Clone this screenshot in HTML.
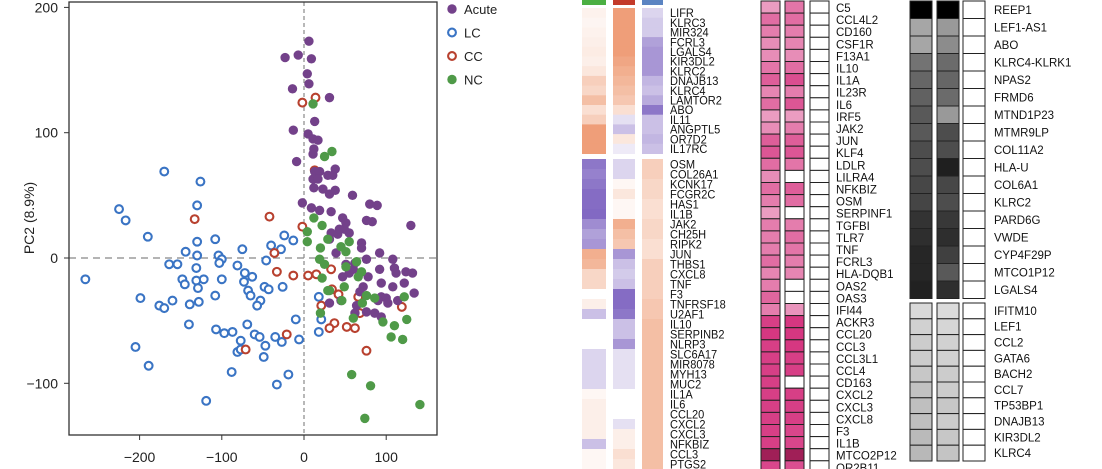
<!DOCTYPE html>
<html><head><meta charset="utf-8">
<style>
html,body{margin:0;padding:0;background:#fff;}
svg{display:block;font-family:"Liberation Sans",sans-serif;}
</style></head>
<body>
<svg id="fig" width="1102" height="469" viewBox="0 0 1102 469" xmlns="http://www.w3.org/2000/svg">
<g id="scatter"></g>
<g id="hm1"></g>
<g id="hm2"></g>
<g id="hm3"></g>
</svg>
<script>
// ---------- scatter data (PC1, PC2) ----------
const acuteX=[6,-23,-7,9,4,6,-14,31,-13,13,5,11,17,12,-9,13,19,11,17,29,35,38,12,23,31,38,59,80,89,-2,9,19,33,47,51,76,83,130,33,41,55,49,70,70,31,92,108,76,51,62,55,92,110,112,124,132,78,94,122,108,72,68,134,94,100,102,114,90,64,62,76,86,94,31,45,11,43,39,60,47];
const acuteY=[173,160,162,159,147,139,135,128,102,109,99,95,94,87,77,69,69,63,63,66,66,71,56,55,51,54,50,43,42,44,40,38,37,32,28,30,29,26,20,19,20,23,12,8,15,4,-1,-1,-5,-4,-12,-9,-8,-12,-11,-12,-15,-20,-20,-23,-23,-27,-28,-31,-32,-36,-34,-34,-38,-44,-43,-44,-47,-36,-34,83,23,4,-9,-15];
const ncX=[11,25,34,12,22,4,4,29,20,45,51,55,19,25,51,66,70,22,29,49,76,46,71,86,122,20,60,96,110,125,106,120,58,81,74,141,31,64];
const ncY=[123,81,85,32,26,21,13,15,8,9,5,13,-1,-5,-7,-15,-11,-16,-26,-23,-30,-34,-36,-32,-31,-44,-48,-51,-54,-49,-63,-65,-93,-102,-128,-117,-26,-3];
const ccX=[-2,14,-133,-42,-2,-36,-33,-13,5,15,33,34,42,21,37,31,52,62,68,66,119,76,-21,-71,13];
const ccY=[124,128,31,33,25,4,-11,-14,-14,-13,-9,-25,-29,-38,-52,-56,-55,-56,-44,-31,-39,-74,-61,-73,70];
const lcX=[-170,-126,-225,-217,-130,-190,-130,-108,-144,-130,-75,-104,-100,-103,-164,-154,-40,-28,-24,-13,-46,-81,-266,-131,-148,-145,-131,-122,-100,-129,-72,-63,-73,-68,-65,-48,-43,-26,-199,-176,-170,-160,-108,-139,-128,-53,-57,-140,-107,-97,-87,-69,-60,-54,-77,-35,-27,-47,-81,-77,-49,-205,-189,-88,-19,-33,-119,-10,-6,18,21,18];
const lcY=[69,61,39,30,42,17,13,15,5,2,7,2,-1,-4,-5,-5,10,7,18,14,-2,-6,-17,-8,-17,-21,-18,-17,-17,-24,-12,-15,-19,-26,-30,-23,-25,-23,-32,-38,-40,-34,-30,-37,-35,-34,-38,-53,-57,-60,-59,-53,-61,-63,-66,-63,-67,-70,-75,-73,-79,-71,-86,-91,-93,-101,-114,-49,-65,-31,-49,-59];
const xTicks=[-200,-100,0,100];
const yTicks=[-100,0,100,200];
const legendLabels=["Acute","LC","CC","NC"];

// ---------- heatmap 1 ----------
const hm1Genes1=["LIFR","KLRC3","MIR324","FCRL3","LGALS4","KIR3DL2","KLRC2","DNAJB13","KLRC4","LAMTOR2","ABO","IL11","ANGPTL5","OR7D2","IL17RC"];
const hm1Genes2=["OSM","COL26A1","KCNK17","FCGR2C","HAS1","IL1B","JAK2","CH25H","RIPK2","JUN","THBS1","CXCL8","TNF","F3","TNFRSF18","U2AF1","IL10","SERPINB2","NLRP3","SLC6A17","MIR8078","MYH13","MUC2","IL1A","IL6","CCL20","CXCL2","CXCL3","NFKBIZ","CCL3","PTGS2"];
const hm1A1=[.08,.06,.08,.1,.12,.1,.15,.3,.25,.4,.2,.3,.6,.6,.6];
const hm1B1=[.6,.6,.6,.6,.6,.55,.5,.45,.4,.35,.2,-.15,-.3,.15,-.1];
const hm1C1=[-.2,-.25,-.25,-.45,-.5,-.5,-.5,-.35,-.3,-.4,-.65,-.3,-.3,-.35,-.3];
const hm1A2=[-.65,-.6,-.65,-.7,-.7,-.75,-.55,-.45,-.5,.5,.45,.25,.25,0,.1,-.3,0,0,0,-.2,-.2,-.2,-.2,.05,.1,.1,.1,.1,-.3,.05,.05];
const hm1B2=[-.2,-.2,.05,.15,.05,.05,.5,.4,.35,-.5,-.3,-.25,-.3,-.7,-.7,-.65,-.3,-.3,-.5,-.15,-.15,-.15,-.15,0,0,0,-.15,.1,.1,.2,.15];
const hm1C2=[.3,.3,.25,.25,.2,.2,.25,.25,.2,.2,.3,.3,.3,.3,.35,.35,.4,.4,.4,.4,.4,.4,.4,.4,.4,.4,.4,.4,.4,.4,.4];

// ---------- heatmap 2 (pink) ----------
const hm2Genes=["C5","CCL4L2","CD160","CSF1R","F13A1","IL10","IL1A","IL23R","IL6","IRF5","JAK2","JUN","KLF4","LDLR","LILRA4","NFKBIZ","OSM","SERPINF1","TGFBI","TLR7","TNF","FCRL3","HLA-DQB1","OAS2","OAS3","IFI44","ACKR3","CCL20","CCL3","CCL3L1","CCL4","CD163","CXCL2","CXCL3","CXCL8","F3","IL1B","MTCO2P12","OR2B11"];
const hm2A=[.3,.6,.5,.4,.4,.55,.7,.45,.6,.3,.4,.7,.75,.6,.4,.6,.5,.3,.5,.5,.5,.6,.45,.5,.65,.5,.9,.95,.9,.9,.9,.9,.9,.9,.9,.9,.9,1.3,.85];
const hm2B=[.55,.6,.5,.45,.4,.6,.8,.5,.75,.3,.5,.7,.75,.55,0,.7,.6,0,.5,.6,.55,.5,.45,0,0,.35,.95,.95,.95,.9,.9,0,.9,.9,.9,.85,.85,1.3,.8];

// ---------- heatmap 3 (grey) ----------
const hm3Genes1=["REEP1","LEF1-AS1","ABO","KLRC4-KLRK1","NPAS2","FRMD6","MTND1P23","MTMR9LP","COL11A2","HLA-U","COL6A1","KLRC2","PARD6G","VWDE","CYP4F29P","MTCO1P12","LGALS4"];
const hm3Genes2=["IFITM10","LEF1","CCL2","GATA6","BACH2","CCL7","TP53BP1","DNAJB13","KIR3DL2","KLRC4"];
const hm3A1=[0,.65,.65,.45,.4,.38,.35,.35,.3,.3,.28,.27,.2,.18,.15,.15,.13];
const hm3B1=[0,.6,.55,.42,.4,.42,.6,.3,.3,.12,.28,.3,.22,.18,.25,.35,.18];
const hm3A2=[.85,.82,.8,.8,.78,.76,.75,.75,.73,.72];
const hm3B2=[.86,.84,.82,.82,.8,.8,.78,.8,.78,.77];

const NS="http://www.w3.org/2000/svg";
function mk(parent,tag,attrs){const e=document.createElementNS(NS,tag);for(const k in attrs)e.setAttribute(k,attrs[k]);parent.appendChild(e);return e;}

// ---------- scatter ----------
const sc=document.getElementById('scatter');
const X0=69,X1=437,Y0=2,Y1=435;
const xs=v=>304+v*0.822;
const ys=v=>258-v*1.253;
const zeroV=mk(sc,'line',{x1:xs(0),x2:xs(0),y1:Y0,y2:Y1,stroke:'#888','stroke-width':1.2,'stroke-dasharray':'4,3'});


const zeroH=mk(sc,'line',{x1:X0,x2:X1,y1:ys(0),y2:ys(0),stroke:'#888','stroke-width':1.2,'stroke-dasharray':'7,5'});


function drawPts(xa,ya,fill,stroke,name){
  for(let i=0;i<xa.length;i++){
    const c=mk(sc,'circle',fill?{cx:xs(xa[i]),cy:ys(ya[i]),r:4.7,fill:fill}:{cx:xs(xa[i]),cy:ys(ya[i]),r:3.9,fill:'#fff',stroke:stroke,'stroke-width':2.1});
    
    
  }
}
drawPts(lcX,lcY,null,'#3a74c4','point-lc');
drawPts(ccX,ccY,null,'#b8412f','point-cc');
drawPts(acuteX,acuteY,'#73418a',null,'point-acute');
drawPts(ncX,ncY,'#4f9a48',null,'point-nc');
const frame=mk(sc,'rect',{x:X0,y:Y0,width:X1-X0,height:Y1-Y0,fill:'none',stroke:'#333','stroke-width':1.3});


xTicks.forEach(t=>{
  const l=mk(sc,'line',{x1:xs(t),x2:xs(t),y1:Y1,y2:Y1+5,stroke:'#333'});
  
  
  const tx=mk(sc,'text',{x:xs(t),y:462,'text-anchor':'middle','font-size':14,fill:'#222'});
  tx.textContent=String(t).replace('-','−');
  
  
});
yTicks.forEach(t=>{
  const l=mk(sc,'line',{x1:X0-5,x2:X0,y1:ys(t),y2:ys(t),stroke:'#333'});
  
  
  const tx=mk(sc,'text',{x:58,y:ys(t)+5,'text-anchor':'end','font-size':14,fill:'#222'});
  tx.textContent=String(t).replace('-','−');
  
  
});
const yt=mk(sc,'text',{x:0,y:0,transform:'translate(34,218) rotate(-90)','text-anchor':'middle','font-size':14,fill:'#222'});
yt.textContent='PC2 (8.9%)';


legendLabels.forEach((lab,i)=>{
  const y=9+i*23.5;
  const c=i===0?mk(sc,'circle',{cx:452,cy:y,r:4.7,fill:'#73418a'}):i===3?mk(sc,'circle',{cx:452,cy:y,r:4.7,fill:'#4f9a48'}):mk(sc,'circle',{cx:452,cy:y,r:3.9,fill:'#fff',stroke:i===1?'#3a74c4':'#b8412f','stroke-width':2.1});
  
  
  const t=mk(sc,'text',{x:464,y:y+5,'font-size':13,fill:'#222'});
  t.textContent=lab;
  
  
});

// ---------- heatmap 1 ----------
const h1=document.getElementById('hm1');
function divColor(v){
  const a=Math.min(1,Math.abs(v)*1.4);
  const c=v>=0?[236,140,95]:[130,105,195];
  return 'rgb('+c.map(x=>Math.round(255+(x-255)*a)).join(',')+')';
}
const cols1=[[582,24],[613,22],[642,21]];
const heads=['#4caf42','#c33a2a','#5b84c2'];
cols1.forEach((c,i)=>{const r=mk(h1,'rect',{x:c[0],y:0,width:c[1],height:5,fill:heads[i]});
  
  });
function block1(genes,cols,top,rh){
  genes.forEach((g,i)=>{
    cols.forEach((arr,j)=>{
      const r=mk(h1,'rect',{x:cols1[j][0],y:top+i*rh,width:cols1[j][1],height:rh+0.5,fill:divColor(arr[i])});
      
      
    });
    const t=mk(h1,'text',{x:670,y:top+i*rh+rh-0.5,'font-size':12,fill:'#111'});
    t.setAttribute('transform','translate(670,0) scale(0.92,1) translate(-670,0)');
    t.textContent=g;
    
    
  });
}
block1(hm1Genes1,[hm1A1,hm1B1,hm1C1],8,9.7);
block1(hm1Genes2,[hm1A2,hm1B2,hm1C2],159,10);

// ---------- heatmap 2 ----------
const h2=document.getElementById('hm2');
function pink(v){
  if(v<=0)return '#ffffff';
  if(v<=1){const a=0.25+0.75*v;const c=[212,47,124];return 'rgb('+c.map(x=>Math.round(255+(x-255)*a)).join(',')+')';}
  return '#a01f57';
}
const cols2=[761,785,810];
hm2Genes.forEach((g,i)=>{
  const y=1+i*12.1;
  [hm2A,hm2B,null].forEach((arr,j)=>{
    const r=mk(h2,'rect',{x:cols2[j],y:y,width:19,height:12.1,fill:arr?pink(arr[i]):'#fff',stroke:'#222','stroke-width':1});
    
    
  });
  const t=mk(h2,'text',{x:836,y:y+11,'font-size':11.5,fill:'#111'});
  t.textContent=g;
  
  
});

// ---------- heatmap 3 ----------
const h3=document.getElementById('hm3');
const grey=v=>{const k=Math.round(v*255);return 'rgb('+k+','+k+','+k+')';};
const cols3=[910,937,963];
function block3(genes,a,b,top,rh){
  genes.forEach((g,i)=>{
    const y=top+i*rh;
    [a,b,null].forEach((arr,j)=>{
      const r=mk(h3,'rect',{x:cols3[j],y:y,width:22,height:rh,fill:arr?grey(arr[i]):'#fff',stroke:'#222','stroke-width':1});
      
      
    });
    const t=mk(h3,'text',{x:994,y:y+rh/2+4,'font-size':11.5,fill:'#111'});
    t.textContent=g;
    
    
  });
}
block3(hm3Genes1,hm3A1,hm3B1,1,17.5);
block3(hm3Genes2,hm3A2,hm3B2,303,15.8);
</script>
</body></html>
